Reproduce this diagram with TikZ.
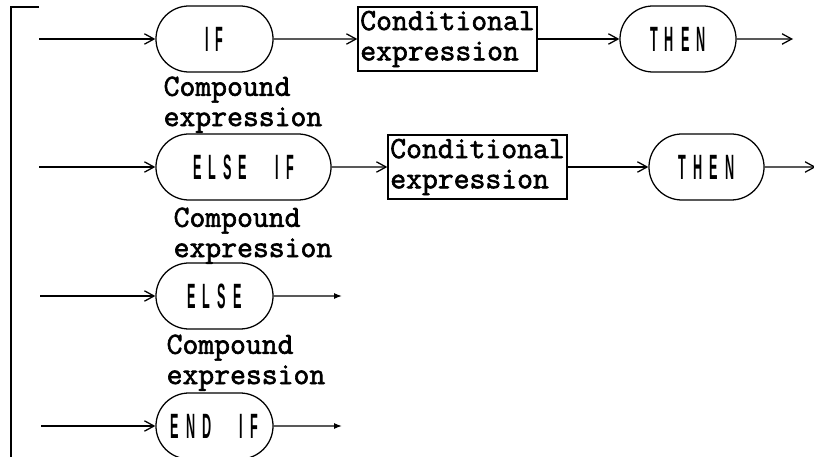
\documentclass[tikz,border=0pt]{standalone}
\usepackage{fontspec}
\usetikzlibrary{arrows.meta, shapes.misc}
\newfontfamily\kwfont[FakeStretch=0.36, LetterSpace=20]{Liberation Sans}
\newfontfamily\exprfont[FakeBold=2]{Latin Modern Mono}

\tikzset{
  keyword/.style={draw, rounded rectangle, minimum height=1.65cm, inner sep=0pt,
    font=\kwfont\bfseries\fontsize{25}{25}\selectfont},
  exprbox/.style={draw, rectangle, minimum width=4.475cm, minimum height=1.6cm,
    inner sep=1pt, align=left, font=\exprfont\fontsize{21.9}{21.5}\selectfont},
  exprtext/.style={anchor=north west, inner sep=0pt, align=left,
    font=\exprfont\fontsize{21.9}{21.5}\selectfont},
  flow/.style={-{Straight Barb[length=2.4mm, width=2.6mm]}},
  stopflow/.style={-{Latex[length=2mm, width=1.5mm]}}
}

\begin{document}
\begin{tikzpicture}[x=0.025cm, y=-0.025cm, line width=0.9pt]
\useasboundingbox (0,0) rectangle (814,457);

% Left bracket
\draw (39,7) -- (11,7) -- (11,457);

% =========== Row 1: IF ===========
\node[keyword, minimum width=2.925cm] (if) at (214.5,39) {IF};
\node[exprbox] (cond1) at (447.5,39) {Conditional\\expression};
\node[keyword, minimum width=2.9cm] (then1) at (678,39) {THEN};
\coordinate (in1) at (39,39);
\coordinate (out1) at (793,39);
\draw[flow] (in1) -- (if);
\draw[flow] (if) -- (cond1);
\draw[flow] (cond1) -- (then1);
\draw[flow] (then1) -- (out1);
\node[exprtext] (body1) at (163,76) {Compound\\expression};

% =========== Row 2: ELSE IF ===========
\node[keyword, minimum width=4.375cm] (elseif) at (243.5,167) {ELSE\hspace{0.8em}IF};
\node[exprbox] (cond2) at (477.5,167) {Conditional\\expression};
\node[keyword, minimum width=2.875cm] (then2) at (706.5,167) {THEN};
\coordinate (in2) at (39,167);
\coordinate (out2) at (816,167);
\draw[flow] (in2) -- (elseif);
\draw[flow] (elseif) -- (cond2);
\draw[flow] (cond2) -- (then2);
\draw[flow] (then2) -- (out2);
\node[exprtext] (body2) at (173,207) {Compound\\expression};

% =========== Row 3: ELSE ===========
\node[keyword, minimum width=2.925cm] (else) at (214.5,296) {ELSE};
\coordinate (in3) at (40,296);
\coordinate (out3) at (342,296);
\draw[flow] (in3) -- (else);
\draw[stopflow] (else) -- (out3);
\node[exprtext] (body3) at (166,334) {Compound\\expression};

% =========== Row 4: END IF ===========
\node[keyword, minimum width=2.925cm] (endif) at (214.5,426) {END\hspace{0.8em}IF};
\coordinate (in4) at (41,426);
\coordinate (out4) at (342,426);
\draw[flow] (in4) -- (endif);
\draw[stopflow] (endif) -- (out4);

\end{tikzpicture}
\end{document}
